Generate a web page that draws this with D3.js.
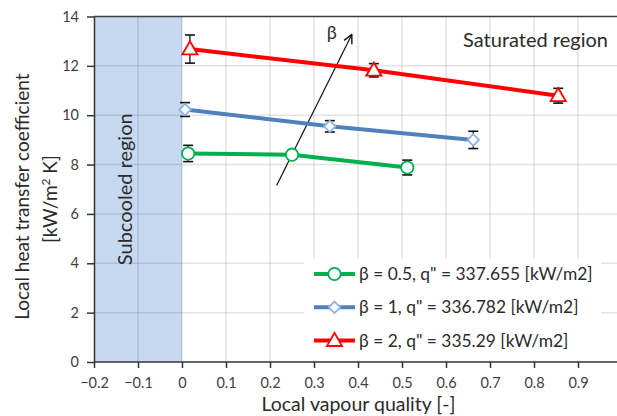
<!DOCTYPE html>
<html lang="en">
<head>
  <meta charset="UTF-8">
  <title>Local heat transfer coefficient vs vapour quality</title>
  <script src="https://d3js.org/d3.v7.min.js"></script>
</head>
<body style="margin:0; background:#fff;">
  <div id="chart"></div>
  <script>
// series data
const seriesNames = ["β = 0.5, q\" = 337.655 [kW/m2]", "β = 1, q\" = 336.782 [kW/m2]", "β = 2, q\" = 335.29 [kW/m2]"];
const x05 = [0.014, 0.25, 0.512];
const h05 = [8.45, 8.4, 7.88];
const e05 = [0.33, 0.15, 0.3];
const x1 = [0.007, 0.336, 0.662];
const h1 = [10.23, 9.55, 9.0];
const e1 = [0.28, 0.23, 0.35];
const x2 = [0.018, 0.436, 0.855];
const h2 = [12.68, 11.82, 10.79];
const e2 = [0.57, 0.27, 0.3];

const xTicks = [-0.2, -0.1, 0, 0.1, 0.2, 0.3, 0.4, 0.5, 0.6, 0.7, 0.8, 0.9];
const yTicks = [0, 2, 4, 6, 8, 10, 12, 14];
const subcooled = [-0.2, 0];          // quality range of subcooled region
const arrowFrom = [0.215, 7.15];      // β arrow, data coords
const arrowTo = [0.386, 13.27];

const W = 617, H = 416;
const font = "Lato, 'Open Sans', sans-serif";
const textCol = "#404040";

const svg = d3.select("#chart").append("svg")
  .attr("width", W).attr("height", H)
  .style("font-family", font);

const x = d3.scaleLinear().domain([-0.2, 1.0]).range([94, 622]);
const y = d3.scaleLinear().domain([0, 14]).range([362, 16.5]);

// subcooled region band
svg.append("rect")
  .attr("x", x(subcooled[0])).attr("y", y(14))
  .attr("width", x(subcooled[1]) - x(subcooled[0]))
  .attr("height", y(0) - y(14))
  .attr("fill", "#c6d9f1");

// gridlines
svg.append("g").selectAll("line")
  .data(xTicks.filter(d => d > -0.2).concat([1.0]))
  .join("line")
  .attr("x1", d => x(d)).attr("x2", d => x(d))
  .attr("y1", y(0)).attr("y2", y(14))
  .attr("stroke", "rgba(0,0,0,0.11)").attr("stroke-width", 1.5);
svg.append("g").selectAll("line")
  .data(yTicks.filter(d => d > 0 && d < 14))
  .join("line")
  .attr("x1", x(-0.2)).attr("x2", W)
  .attr("y1", d => y(d)).attr("y2", d => y(d))
  .attr("stroke", "rgba(0,0,0,0.11)").attr("stroke-width", 1.5);

// top border
svg.append("line")
  .attr("x1", x(-0.2)).attr("x2", W)
  .attr("y1", y(14)).attr("y2", y(14))
  .attr("stroke", "#404040").attr("stroke-width", 1.5);

// axes
const xAxis = svg.append("g")
  .attr("transform", `translate(0,${y(0)})`)
  .call(d3.axisBottom(x).tickValues(xTicks).tickSize(6).tickSizeOuter(0)
    .tickFormat(d => d3.format("")(+d.toFixed(1))));
xAxis.select(".domain").attr("stroke", "#333").attr("stroke-width", 1.5).attr("d", `M${x(-0.2)},0H${W}`);
xAxis.selectAll(".tick line").attr("stroke", "#333").attr("stroke-width", 1.5);
xAxis.selectAll("text").attr("font-size", 14.5).attr("fill", textCol).attr("y", 21).attr("dy", "0.35em").style("font-family", font);

const yAxis = svg.append("g")
  .attr("transform", `translate(${x(-0.2)},0)`)
  .call(d3.axisLeft(y).tickValues(yTicks).tickSize(7).tickSizeOuter(0));
yAxis.select(".domain").attr("stroke", "#333").attr("stroke-width", 1.5);
yAxis.selectAll(".tick line").attr("stroke", "#333").attr("stroke-width", 1.5);
yAxis.selectAll("text").attr("font-size", 14.5).attr("fill", textCol).attr("x", -15).style("font-family", font);

// region labels
svg.append("text")
  .attr("transform", `translate(${x(-0.13)},${y(7.0)}) rotate(-90)`)
  .attr("text-anchor", "middle").attr("dy", "0.35em")
  .attr("font-size", 20).attr("fill", "#2b2b2b")
  .text("Subcooled region");
svg.append("text")
  .attr("x", 608).attr("y", y(13.05))
  .attr("text-anchor", "end").attr("dy", "0.35em")
  .attr("font-size", 20).attr("fill", "#2b2b2b")
  .text("Saturated region");

// axis titles
svg.append("text")
  .attr("transform", `translate(22,${y(6.7)}) rotate(-90)`)
  .attr("text-anchor", "middle").attr("dy", "0.35em")
  .attr("font-size", 19).attr("fill", "#2b2b2b")
  .text("Local heat transfer coefficient");
const yl2 = svg.append("text")
  .attr("transform", `translate(50,${y(6.6)}) rotate(-90)`)
  .attr("text-anchor", "middle").attr("dy", "0.35em")
  .attr("font-size", 19).attr("fill", "#2b2b2b");
yl2.append("tspan").text("[kW/m");
yl2.append("tspan").attr("font-size", 12).attr("baseline-shift", "super").text("2");
yl2.append("tspan").text(" K]");
svg.append("text")
  .attr("x", x(0.401)).attr("y", 411)
  .attr("text-anchor", "middle")
  .attr("font-size", 19.5).attr("fill", "#2b2b2b")
  .text("Local vapour quality [-]");

// β arrow
svg.append("defs").append("marker")
  .attr("id", "arrowHead").attr("viewBox", "0 0 10 10")
  .attr("refX", 9).attr("refY", 5)
  .attr("markerWidth", 9).attr("markerHeight", 9)
  .attr("orient", "auto")
  .append("path").attr("d", "M1,1 L9,5 L1,9")
  .attr("fill", "none").attr("stroke", "#111").attr("stroke-width", 1.3);
svg.append("line")
  .attr("x1", x(arrowFrom[0])).attr("y1", y(arrowFrom[1]))
  .attr("x2", x(arrowTo[0])).attr("y2", y(arrowTo[1]))
  .attr("stroke", "#111").attr("stroke-width", 1.2)
  .attr("marker-end", "url(#arrowHead)");
svg.append("text")
  .attr("x", x(arrowTo[0]) - 20).attr("y", y(arrowTo[1]) - 2)
  .attr("text-anchor", "middle").attr("dy", "0.35em")
  .attr("font-size", 18).attr("fill", "#2b2b2b")
  .text("β");

// series
const series = [
  { name: seriesNames[0], xs: x05, hs: h05, es: e05, color: "#00b050", marker: "circle", mcol: "#00b050" },
  { name: seriesNames[1], xs: x1, hs: h1, es: e1, color: "#4f81bd", marker: "diamond", mcol: "#8db3e2" },
  { name: seriesNames[2], xs: x2, hs: h2, es: e2, color: "#ff0000", marker: "triangle", mcol: "#ff0000" }
];

const symbols = {
  circle: d3.symbol().type(d3.symbolCircle).size(120),
  diamond: d3.symbol().type(d3.symbolDiamond2).size(85),
  triangle: d3.symbol().type(d3.symbolTriangle).size(100)
};

const line = d3.line().x(d => x(d.x)).y(d => y(d.h));

series.forEach(s => {
  const pts = s.xs.map((v, i) => ({ x: v, h: s.hs[i], e: s.es[i] }));
  svg.append("path").datum(pts)
    .attr("d", line).attr("fill", "none")
    .attr("stroke", s.color).attr("stroke-width", 4);

  const eb = svg.append("g").attr("stroke", "#111").attr("stroke-width", 1.3);
  pts.forEach(p => {
    const cx = x(p.x);
    eb.append("line").attr("x1", cx).attr("x2", cx).attr("y1", y(p.h + p.e)).attr("y2", y(p.h - p.e));
    [p.h + p.e, p.h - p.e].forEach(v => {
      eb.append("line").attr("x1", cx - 5).attr("x2", cx + 5).attr("y1", y(v)).attr("y2", y(v)).attr("stroke-width", 1.6);
    });
  });

  svg.append("g").selectAll("path")
    .data(pts).join("path")
    .attr("d", symbols[s.marker])
    .attr("transform", d => `translate(${x(d.x)},${y(d.h) + (s.marker === "triangle" ? 1 : 0)})`)
    .attr("fill", "#fff").attr("stroke", s.mcol).attr("stroke-width", 1.8);
});

// legend
const lg = svg.append("g");
lg.append("rect")
  .attr("x", 304).attr("y", 258).attr("width", 297).attr("height", 102)
  .attr("fill", "#fff");
series.forEach((s, i) => {
  const ly = 274 + i * 33.3;
  lg.append("line").attr("x1", 314).attr("x2", 355).attr("y1", ly).attr("y2", ly)
    .attr("stroke", s.color).attr("stroke-width", 4);
  lg.append("path").attr("d", symbols[s.marker])
    .attr("transform", `translate(334.5,${ly + (s.marker === "triangle" ? 1 : 0)})`)
    .attr("fill", "#fff").attr("stroke", s.mcol).attr("stroke-width", 1.8);
  lg.append("text").attr("x", 359).attr("y", ly).attr("dy", "0.35em")
    .attr("font-size", 17.4).attr("fill", "#2b2b2b")
    .text(s.name);
});
  </script>
</body>
</html>
